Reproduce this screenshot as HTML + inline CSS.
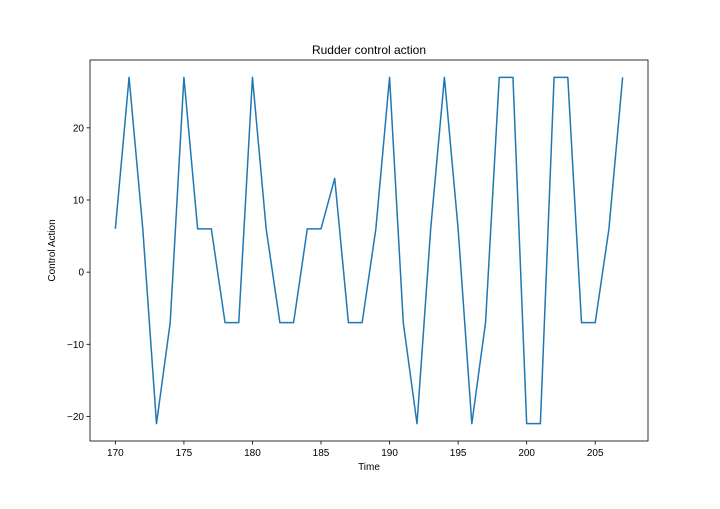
<!DOCTYPE html>
<html><head><meta charset="utf-8"><style>
body{margin:0;background:#fff}
svg text{font-family:"Liberation Sans","DejaVu Sans",sans-serif;fill:#000}
</style></head><body>
<svg id="chart" width="720" height="504" xmlns="http://www.w3.org/2000/svg">
<rect width="720" height="504" fill="#fff"/>
<text x="369" y="54" font-size="12" text-anchor="middle">Rudder control action</text>
<text x="369" y="470" font-size="10" text-anchor="middle">Time</text>
<text x="0" y="0" font-size="10" text-anchor="middle" transform="translate(55,250.5) rotate(-90)">Control Action</text>
<g id="plot"></g>
</svg>
<script>
const times = [170,171,172,173,174,175,176,177,178,179,180,181,182,183,184,185,186,187,188,189,190,191,192,193,194,195,196,197,198,199,200,201,202,203,204,205,206,207];
const actions = [6,27,6,-21,-7,27,6,6,-7,-7,27,6,-7,-7,6,6,13,-7,-7,6,27,-7,-21,6,27,6,-21,-7,27,27,-21,-21,27,27,-7,-7,6,27];
const xTicks = [170,175,180,185,190,195,200,205];
const yTicks = [-20,-10,0,10,20];
const L=90,R=648,T=60,B=441;
const xmin=168.15,xmax=208.85,ymin=-23.4,ymax=29.4;
const xs=v=>L+(v-xmin)/(xmax-xmin)*(R-L);
const ys=v=>B-(v-ymin)/(ymax-ymin)*(B-T);
const NS="http://www.w3.org/2000/svg";
const g=document.getElementById('plot');
function mk(tag,attrs){const e=document.createElementNS(NS,tag);for(const k in attrs)e.setAttribute(k,attrs[k]);g.appendChild(e);return e;}
xTicks.forEach(t=>{
  const x=xs(t);
  const l=mk('line',{x1:x,x2:x,y1:B,y2:B+3.5,stroke:'#000','stroke-width':0.8});
  
  
  const tx=mk('text',{x:x,y:B+15,'font-size':10,'text-anchor':'middle'});
  tx.textContent=t;
  
  
});
yTicks.forEach(t=>{
  const y=ys(t);
  const l=mk('line',{x1:L-3.5,x2:L,y1:y,y2:y,stroke:'#000','stroke-width':0.8});
  
  
  const tx=mk('text',{x:L-6,y:y+3.5,'font-size':10,'text-anchor':'end'});
  tx.textContent=t<0?'\u2212'+(-t):t;
  
  
});
const pts=times.map((t,i)=>xs(t).toFixed(2)+','+ys(actions[i]).toFixed(2)).join(' ');
const line=mk('polyline',{points:pts,fill:'none',stroke:'#1f77b4','stroke-width':1.5,'stroke-linejoin':'round'});


const frame=mk('rect',{x:L,y:T,width:R-L,height:B-T,fill:'none',stroke:'#000','stroke-width':0.8});


</script>
</body></html>
